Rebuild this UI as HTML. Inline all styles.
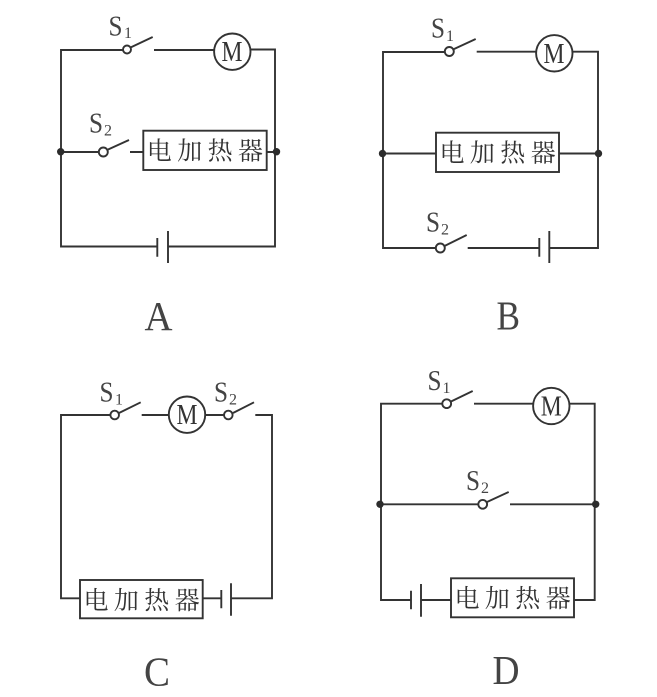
<!DOCTYPE html>
<html>
<head>
<meta charset="utf-8">
<style>
html,body{margin:0;padding:0;background:#fff;width:657px;height:697px;overflow:hidden}
svg{display:block}
.w{fill:none;stroke:#333;stroke-width:1.9}
.c{fill:#fff;stroke:#333;stroke-width:1.9}
.o{fill:#fff;stroke:#333;stroke-width:1.9}
.d{fill:#2c2c2c}
text{fill:#3a3a3a;font-family:"Liberation Serif",serif}
.s{font-size:29px;fill:#444}
.u{font-size:16px;fill:#444}
.m{font-size:28px;fill:#333}
.L{font-size:41px;fill:#444}
.h{font-family:"Liberation Serif","Noto Serif CJK SC",serif;font-size:25px;fill:#333}
</style>
</head>
<body>
<svg width="657" height="697" viewBox="0 0 657 697" xmlns="http://www.w3.org/2000/svg">
<rect width="657" height="697" fill="#fff"/>

<!-- A -->
<path class="w" d="M123 50H61V246.5H157.3M157.3 238V256.7M168 231V263M168 246.5H275V49.5H250.7M214 50H154M130.5 47.5L152.7 37"/>
<path class="w" d="M61 152H99M107 150L129 140M130 152H143.3M266.7 152H276"/>
<circle class="o" cx="127" cy="49.5" r="4"/>
<circle class="o" cx="103.3" cy="152" r="4.5"/>
<circle class="c" cx="232.3" cy="51.7" r="18.2"/>
<rect class="c" x="143.3" y="130.7" width="123.4" height="39.3"/>
<circle class="d" cx="60.7" cy="151.7" r="3.7"/>
<circle class="d" cx="276.5" cy="151.7" r="3.7"/>
<text class="m" x="221.5" y="61" textLength="21" lengthAdjust="spacingAndGlyphs">M</text>
<text class="s" x="108.5" y="35.5" textLength="14" lengthAdjust="spacingAndGlyphs">S</text><text class="u" x="124" y="38">1</text>
<text class="s" x="89" y="132.5" textLength="14" lengthAdjust="spacingAndGlyphs">S</text><text class="u" x="104" y="135.5">2</text>
<text class="h" x="146.8 177.2 207.6 238" y="159.5">电加热器</text>
<text class="L" x="144.5" y="330" textLength="28" lengthAdjust="spacingAndGlyphs">A</text>

<!-- B -->
<path class="w" d="M445 52H383V248H436M444.5 246L466.7 235M467.7 248H539.3M539.3 238V256.7M549.3 231V263M549.3 248H598V51.7H572M536 51.7H476.7M453 49.5L475.7 39"/>
<path class="w" d="M383 153.5H436M559 153.5H598"/>
<circle class="o" cx="449.3" cy="51.5" r="4.5"/>
<circle class="o" cx="440.3" cy="248" r="4.5"/>
<circle class="c" cx="554.3" cy="53.3" r="18.2"/>
<rect class="c" x="436" y="132.7" width="123" height="39.3"/>
<circle class="d" cx="382.5" cy="153.5" r="3.7"/>
<circle class="d" cx="598.5" cy="153.5" r="3.7"/>
<text class="m" x="543.5" y="62.8" textLength="21" lengthAdjust="spacingAndGlyphs">M</text>
<text class="s" x="431" y="37.5" textLength="14" lengthAdjust="spacingAndGlyphs">S</text><text class="u" x="446" y="41">1</text>
<text class="s" x="426" y="231.5" textLength="14" lengthAdjust="spacingAndGlyphs">S</text><text class="u" x="441" y="234.5">2</text>
<text class="h" x="439.5 469.9 500.3 530.7" y="161.5">电加热器</text>
<text class="L" x="496.5" y="329.5" textLength="23.5" lengthAdjust="spacingAndGlyphs">B</text>

<!-- C -->
<path class="w" d="M110 415H61V598.3H80M119 413L140.7 402.3M141.7 415H169M205 415H224M233 413L254 402.3M255.3 415H272V598.3H231M231 583.3V615.7M221.3 590V608.3M221.3 598.3H202.7"/>
<circle class="o" cx="114.7" cy="415" r="4.3"/>
<circle class="o" cx="228.3" cy="415" r="4.3"/>
<circle class="c" cx="187" cy="414.7" r="18.2"/>
<rect class="c" x="80" y="580" width="122.7" height="38.3"/>
<text class="m" x="176.5" y="424.2" textLength="21" lengthAdjust="spacingAndGlyphs">M</text>
<text class="s" x="99.5" y="401.5" textLength="14" lengthAdjust="spacingAndGlyphs">S</text><text class="u" x="115" y="404.5">1</text>
<text class="s" x="214" y="401.5" textLength="14" lengthAdjust="spacingAndGlyphs">S</text><text class="u" x="229" y="404.5">2</text>
<text class="h" x="83.5 113.9 144.3 174.7" y="608.8">电加热器</text>
<text class="L" x="144" y="685.5" textLength="26" lengthAdjust="spacingAndGlyphs">C</text>

<!-- D -->
<path class="w" d="M442 403.7H381V600H411M411 590.7V609.3M421 584V616.7M421 600H451M574 600H594.7V403.7H569M533 403.7H474M451 401.5L472.7 391"/>
<path class="w" d="M381 504.3H478M487 502L508.7 492M510 504.3H595"/>
<circle class="o" cx="446.7" cy="403.7" r="4.4"/>
<circle class="o" cx="482.7" cy="504.3" r="4.4"/>
<circle class="c" cx="551.3" cy="406" r="18.2"/>
<rect class="c" x="451" y="578.3" width="123" height="39"/>
<circle class="d" cx="380" cy="504.3" r="3.7"/>
<circle class="d" cx="595.7" cy="504.3" r="3.7"/>
<text class="m" x="540.8" y="415.5" textLength="21" lengthAdjust="spacingAndGlyphs">M</text>
<text class="s" x="427.5" y="390" textLength="14" lengthAdjust="spacingAndGlyphs">S</text><text class="u" x="442.5" y="393">1</text>
<text class="s" x="466" y="490" textLength="14" lengthAdjust="spacingAndGlyphs">S</text><text class="u" x="481" y="493">2</text>
<text class="h" x="454.5 484.9 515.3 545.7" y="607.1">电加热器</text>
<text class="L" x="492.5" y="684" textLength="27" lengthAdjust="spacingAndGlyphs">D</text>
</svg>
</body>
</html>
